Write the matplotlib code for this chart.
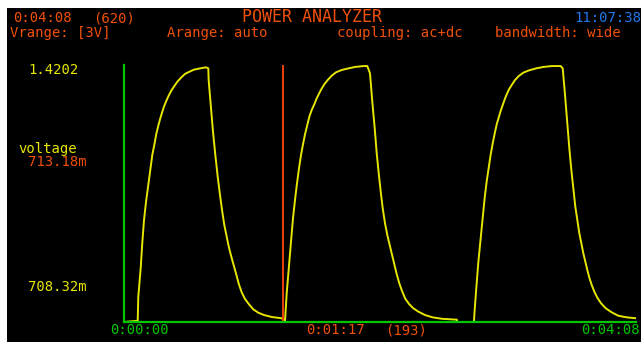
import matplotlib
matplotlib.use('Agg')
import matplotlib.pyplot as plt
from matplotlib.patches import Rectangle

# 采样时间（秒）与电压（V）
time_s = [0.0, 6.64, 6.93, 8.09, 8.86, 9.69, 10.66, 11.77, 12.74, 13.71, 14.68, 15.65,
          16.61, 17.58, 18.55, 19.52, 20.68, 21.80, 23.11, 24.37, 25.82, 27.61, 29.55,
          31.63, 33.91, 36.81, 39.72,
          40.83, 41.0, 42.00, 43.11, 44.23, 45.39, 46.50, 47.47, 48.59, 49.75, 50.86,
          51.98, 53.14, 54.25, 55.56, 57.01, 58.61, 60.55, 62.63, 65.06, 67.82, 71.55,
          76.39, 77.5,
          77.99, 78.81, 79.93, 80.89, 81.86, 82.83, 83.80, 84.77, 85.74, 86.71, 87.68,
          88.65, 89.76, 90.92, 92.04, 93.15, 94.31, 95.57, 97.03, 98.67, 100.61, 102.69,
          105.45, 108.65, 111.89, 115.92, 117.85,
          119.16, 120.27, 121.44, 122.41, 123.38, 124.35, 125.31, 126.43, 127.54, 128.70,
          129.82, 130.93, 132.09, 133.35, 134.66, 136.26, 138.20, 140.13, 142.56, 145.80,
          149.53, 153.89, 161.16, 161.5, 169.54,
          169.69, 170.51, 171.63, 172.79, 173.76, 174.73, 175.70, 176.67, 177.63, 178.60,
          179.57, 180.54, 181.51, 182.48, 183.45, 184.42, 185.39, 186.50, 187.81, 189.41,
          191.20, 193.43, 196.19, 199.58, 203.11, 207.18, 211.54,
          212.51, 213.62, 214.74, 215.71, 216.68, 217.64, 218.61, 219.58, 220.55, 221.52,
          222.49, 223.46, 224.43, 225.40, 226.56, 227.82, 229.27, 231.06, 233.33, 236.24,
          239.44, 243.51, 248.0]
voltage = [0.0, 0.007, 0.142, 0.303, 0.443, 0.571, 0.672, 0.768, 0.852, 0.936, 0.992, 1.054,
           1.100, 1.141, 1.178, 1.212, 1.244, 1.272, 1.300, 1.322, 1.346, 1.369, 1.390,
           1.402, 1.414, 1.421, 1.427,
           1.421, 1.356, 1.216, 1.066, 0.936, 0.814, 0.712, 0.628, 0.543, 0.478, 0.416,
           0.366, 0.319, 0.272, 0.215, 0.166, 0.129, 0.099, 0.071, 0.052, 0.039, 0.028,
           0.021, 0.008,
           0.007, 0.161, 0.319, 0.450, 0.581, 0.684, 0.777, 0.861, 0.936, 0.996, 1.052,
           1.098, 1.150, 1.188, 1.216, 1.248, 1.276, 1.304, 1.332, 1.356, 1.380, 1.399,
           1.412, 1.421, 1.429, 1.434, 1.434,
           1.393, 1.234, 1.085, 0.945, 0.833, 0.730, 0.637, 0.553, 0.487, 0.431,
           0.375, 0.323, 0.268, 0.217, 0.174, 0.130, 0.099, 0.077, 0.058, 0.039,
           0.026, 0.018, 0.013, 0.0, 0.0,
           0.039, 0.170, 0.335, 0.469, 0.587, 0.699, 0.790, 0.867, 0.940, 1.001,
           1.057, 1.108, 1.147, 1.184, 1.216, 1.248, 1.276, 1.304, 1.328, 1.356,
           1.378, 1.397, 1.410, 1.421, 1.429, 1.434, 1.434,
           1.421, 1.272, 1.113, 0.973, 0.852, 0.749, 0.646, 0.571, 0.497, 0.441,
           0.385, 0.338, 0.291, 0.248, 0.207, 0.170, 0.136, 0.105, 0.077, 0.054,
           0.035, 0.026, 0.021]

cursor_s = 77
t_max = 248
v_max = 1.44

header1 = ['0:04:08', '(620)', 'POWER ANALYZER', '11:07:38']
header2 = ['Vrange: [3V]', 'Arange: auto', 'coupling: ac+dc', 'bandwidth: wide']
y_labels = ['1.4202', 'voltage', '713.18m', '708.32m']
x_labels = ['0:00:00', '0:01:17', '(193)', '0:04:08']

ORANGE = '#f0500a'
YELLOW = '#e6e600'
GREEN = '#00c800'
BLUE = '#1e78f0'

W, H = 641, 342
fig = plt.figure(figsize=(W / 100, H / 100), dpi=100, facecolor='white')
fig.patches.append(Rectangle((7 / W, 0), 1, (H - 8) / H, transform=fig.transFigure,
                             facecolor='black', edgecolor='none', zorder=-5))


def put(px, py, s, color, ha='left', size=10):
    # py 为文字中线，换成基线位置
    fig.text(px / W, 1 - (py + 4) / H, s, color=color, fontsize=size, ha=ha,
             va='baseline', family='DejaVu Sans Mono')


put(13, 18, header1[0], ORANGE)
put(93, 18, header1[1], ORANGE)
put(242, 18, header1[2], ORANGE, size=12)
put(641, 18, header1[3], BLUE, ha='right')
put(10, 33, header2[0], ORANGE)
put(167, 33, header2[1], ORANGE)
put(337, 33, header2[2], ORANGE)
put(495, 33, header2[3], ORANGE)

put(28, 70, y_labels[0], YELLOW)
put(18, 149, y_labels[1], YELLOW)
put(28, 162, y_labels[2], ORANGE)
put(28, 287, y_labels[3], YELLOW)

put(110, 330, x_labels[0], GREEN)
put(306, 330, x_labels[1], ORANGE)
put(385, 330, x_labels[2], ORANGE)
put(640, 330, x_labels[3], GREEN, ha='right')

ax = fig.add_axes([124 / W, (H - 322) / H, 512 / W, 257 / H])
ax.set_facecolor('none')
ax.plot(time_s, voltage, color=YELLOW, lw=1.4, solid_joinstyle='miter')
ax.axvline(cursor_s, color='#e8400a', lw=1.5)
ax.set_xlim(0, t_max)
ax.set_ylim(0, v_max)
for side in ['top', 'right']:
    ax.spines[side].set_visible(False)
for side in ['left', 'bottom']:
    ax.spines[side].set_color(GREEN)
    ax.spines[side].set_linewidth(1.6)
    ax.spines[side].set_zorder(3)
ax.set_xticks([])
ax.set_yticks([])

plt.savefig('out.png', dpi=100, facecolor=fig.get_facecolor())
